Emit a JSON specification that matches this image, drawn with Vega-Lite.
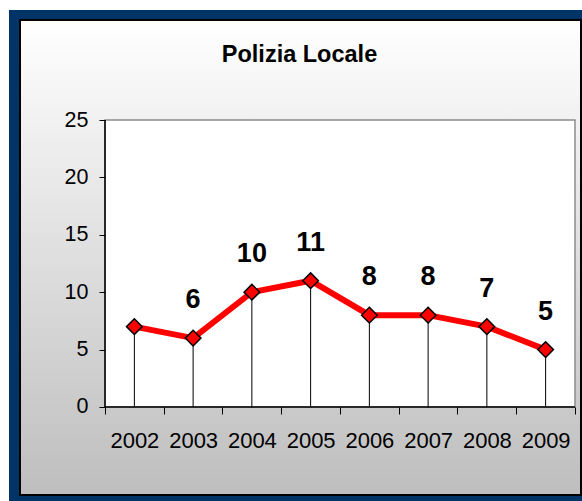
{
  "$schema": "https://vega.github.io/schema/vega-lite/v6.json",
  "width": 573,
  "height": 491,
  "autosize": {"type": "none"},
  "padding": {"left": 9, "top": 10, "right": 0, "bottom": 0},
  "background": "white",
  "view": {"fill": "#003366", "stroke": null},
  "title": {
    "text": "Polizia Locale",
    "anchor": "middle",
    "orient": "top",
    "offset": -75,
    "dx": 4,
    "baseline": "alphabetic",
    "font": "Liberation Sans",
    "fontSize": 23.5,
    "fontWeight": "bold",
    "color": "black"
  },
  "data": {
    "values": [
      {"year": 2002, "value": 7},
      {"year": 2003, "value": 6},
      {"year": 2004, "value": 10},
      {"year": 2005, "value": 11},
      {"year": 2006, "value": 8},
      {"year": 2007, "value": 8},
      {"year": 2008, "value": 7},
      {"year": 2009, "value": 5}
    ]
  },
  "encoding": {
    "x": {
      "field": "year",
      "type": "quantitative",
      "scale": {"domain": [1999.86596, 2009.61915], "nice": false, "zero": false},
      "axis": {
        "orient": "bottom",
        "offset": -94,
        "values": [2001.5, 2002.5, 2003.5, 2004.5, 2005.5, 2006.5, 2007.5, 2008.5, 2009.5],
        "labelExpr": "datum.value < 2009 ? format(datum.value + 0.5, 'd') : ''",
        "labelOffset": 29.375,
        "tickSize": 7,
        "tickColor": "black",
        "tickWidth": 1,
        "domain": false,
        "grid": false,
        "labelFont": "Liberation Sans",
        "labelFontSize": 22,
        "labelColor": "black",
        "labelPadding": 16,
        "labelOverlap": false,
        "labelFlush": false,
        "title": null,
        "zindex": 1
      }
    },
    "y": {
      "field": "value",
      "type": "quantitative",
      "scale": {"domain": [-8.1882, 34.5819], "nice": false, "zero": false},
      "axis": {
        "orient": "left",
        "offset": -96,
        "values": [0, 5, 10, 15, 20, 25],
        "tickSize": 6,
        "tickColor": "black",
        "tickWidth": 1,
        "domain": false,
        "grid": false,
        "labelFont": "Liberation Sans",
        "labelFontSize": 21.5,
        "labelColor": "black",
        "labelPadding": 11,
        "labelOverlap": false,
        "labelFlush": false,
        "title": null,
        "zindex": 1
      }
    }
  },
  "layer": [
    {
      "transform": [{"filter": "datum.year == 2002"}],
      "mark": {
        "type": "rect",
        "stroke": "black",
        "strokeWidth": 2,
        "fill": {
          "gradient": "linear",
          "x1": 0, "y1": 0, "x2": 0, "y2": 1,
          "stops": [
            {"offset": 0, "color": "#ffffff"},
            {"offset": 1, "color": "#bebebe"}
          ]
        }
      },
      "encoding": {
        "x": {"datum": 2000.0532},
        "x2": {"datum": 2009.6021},
        "y": {"datum": 33.7108},
        "y2": {"datum": -7.6655}
      }
    },
    {
      "transform": [{"filter": "datum.year == 2002"}],
      "mark": {"type": "rect", "fill": "white", "stroke": "#8c8c8c", "strokeWidth": 1.5},
      "encoding": {
        "x": {"datum": 2001.5},
        "x2": {"datum": 2009.5},
        "y": {"datum": 0},
        "y2": {"datum": 25}
      }
    },
    {
      "transform": [{"filter": "datum.year == 2002"}],
      "mark": {"type": "rule", "color": "black", "strokeWidth": 1.5},
      "encoding": {
        "x": {"datum": 2001.5},
        "y": {"datum": 0},
        "y2": {"datum": 25}
      }
    },
    {
      "transform": [{"filter": "datum.year == 2002"}],
      "mark": {"type": "rule", "color": "black", "strokeWidth": 1.5},
      "encoding": {
        "x": {"datum": 2001.5},
        "x2": {"datum": 2009.5},
        "y": {"datum": 0}
      }
    },
    {
      "mark": {"type": "rule", "color": "black", "strokeWidth": 1},
      "encoding": {
        "y": {"datum": 0},
        "y2": {"field": "value"}
      }
    },
    {
      "mark": {"type": "line", "color": "#ff0000", "strokeWidth": 6}
    },
    {
      "mark": {
        "type": "point",
        "shape": "diamond",
        "filled": true,
        "fill": "#ff0000",
        "stroke": "black",
        "strokeWidth": 1.5,
        "size": 245,
        "opacity": 1
      }
    },
    {
      "transform": [{"filter": "datum.year != 2002"}],
      "mark": {
        "type": "text",
        "font": "Liberation Sans",
        "fontSize": 27,
        "fontWeight": "bold",
        "color": "black",
        "baseline": "middle",
        "align": "center",
        "dy": -38
      },
      "encoding": {
        "text": {"field": "value", "type": "quantitative"}
      }
    }
  ]
}
